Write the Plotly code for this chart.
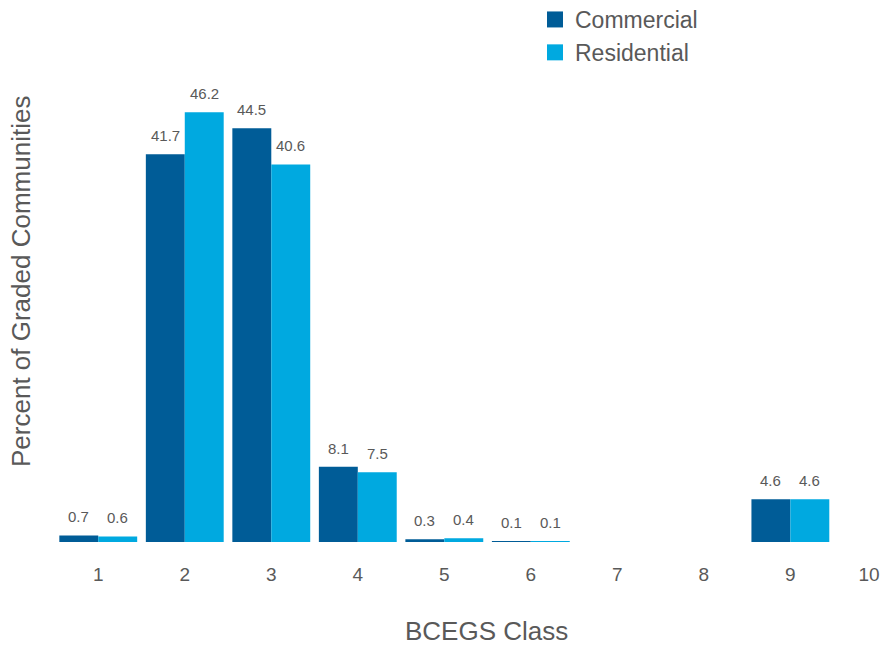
import plotly.graph_objects as go

classes = [1, 2, 3, 4, 5, 6, 7, 8, 9, 10]
tick_labels = ["1", "2", "3", "4", "5", "6", "7", "8", "9", "10\u00a0\u00a0\u00a0"]
commercial = [0.7, 41.7, 44.5, 8.1, 0.3, 0.1, None, None, 4.6, None]
residential = [0.6, 46.2, 40.6, 7.5, 0.4, 0.1, None, None, 4.6, None]
series_names = ["Commercial", "Residential"]

C_COM = "#005c97"
C_RES = "#00a9e0"
GRAY = "#595959"
FONT = "Liberation Sans, Arial, sans-serif"

OFF = 8  # default page body margin
W, H = 889 - OFF, 645 - OFF
L, R, T = 55 - OFF, 0, 77 - OFF
B = H - (542 - OFF)
PW, PH = W - L - R, H - T - B
YMAX = 50
BARGAP = 0.1
half = (1 - BARGAP) / 4  # centre offset of each bar within a group

def px_x(p):
    return (p - OFF - L) / PW

def px_y(p):
    return (H - B - (p - OFF)) / PH

fig = go.Figure()
for name, vals, col in [(series_names[0], commercial, C_COM), (series_names[1], residential, C_RES)]:
    fig.add_trace(go.Bar(x=classes, y=vals, name=name, marker=dict(color=col, line=dict(width=0)),
                         showlegend=False))
    fig.add_trace(go.Scatter(x=[None], y=[None], mode="markers", name=name,
                             marker=dict(symbol="square", size=16, color=col), showlegend=True))

annotations = []
for vals, sign in [(commercial, -1), (residential, 1)]:
    for c, v in zip(classes, vals):
        if v is None:
            continue
        annotations.append(dict(x=c + sign * half, y=v, xref="x", yref="y", text=f"{v:.1f}",
                                showarrow=False, yanchor="bottom", xanchor="center", yshift=8,
                                font=dict(size=15, color=GRAY, family=FONT)))

annotations.append(dict(text="Percent of Graded Communities", textangle=-90,
                        xref="paper", yref="paper", x=px_x(21), y=px_y(282),
                        xanchor="center", yanchor="middle", showarrow=False,
                        font=dict(size=26, color=GRAY, family=FONT)))
annotations.append(dict(text="BCEGS Class", xref="paper", yref="paper",
                        x=px_x(486), y=px_y(631), xanchor="center", yanchor="middle",
                        showarrow=False, font=dict(size=26, color=GRAY, family=FONT)))

fig.update_layout(
    width=W, height=H,
    margin=dict(l=L, r=R, t=T, b=B, autoexpand=False),
    paper_bgcolor="white", plot_bgcolor="white",
    font=dict(family=FONT, color=GRAY),
    barmode="group", bargap=BARGAP, bargroupgap=0,
    showlegend=True,
    legend=dict(x=px_x(535), y=px_y(-2), xanchor="left", yanchor="top",
                font=dict(size=23, color=GRAY, family=FONT), tracegroupgap=0,
                itemsizing="trace", bgcolor="rgba(0,0,0,0)"),
    xaxis=dict(range=[0.5, 10.14], tickmode="array", tickvals=classes,
               ticktext=tick_labels, showgrid=False, zeroline=False,
               showline=False, ticks="", ticklabelstandoff=19, automargin=False,
               ticklabeloverflow="allow",
               tickfont=dict(size=19, color=GRAY, family=FONT)),
    yaxis=dict(range=[0, YMAX], showgrid=False, zeroline=False, showline=False,
               showticklabels=False, ticks="", automargin=False),
    annotations=annotations,
)

fig.write_html("out.html")
